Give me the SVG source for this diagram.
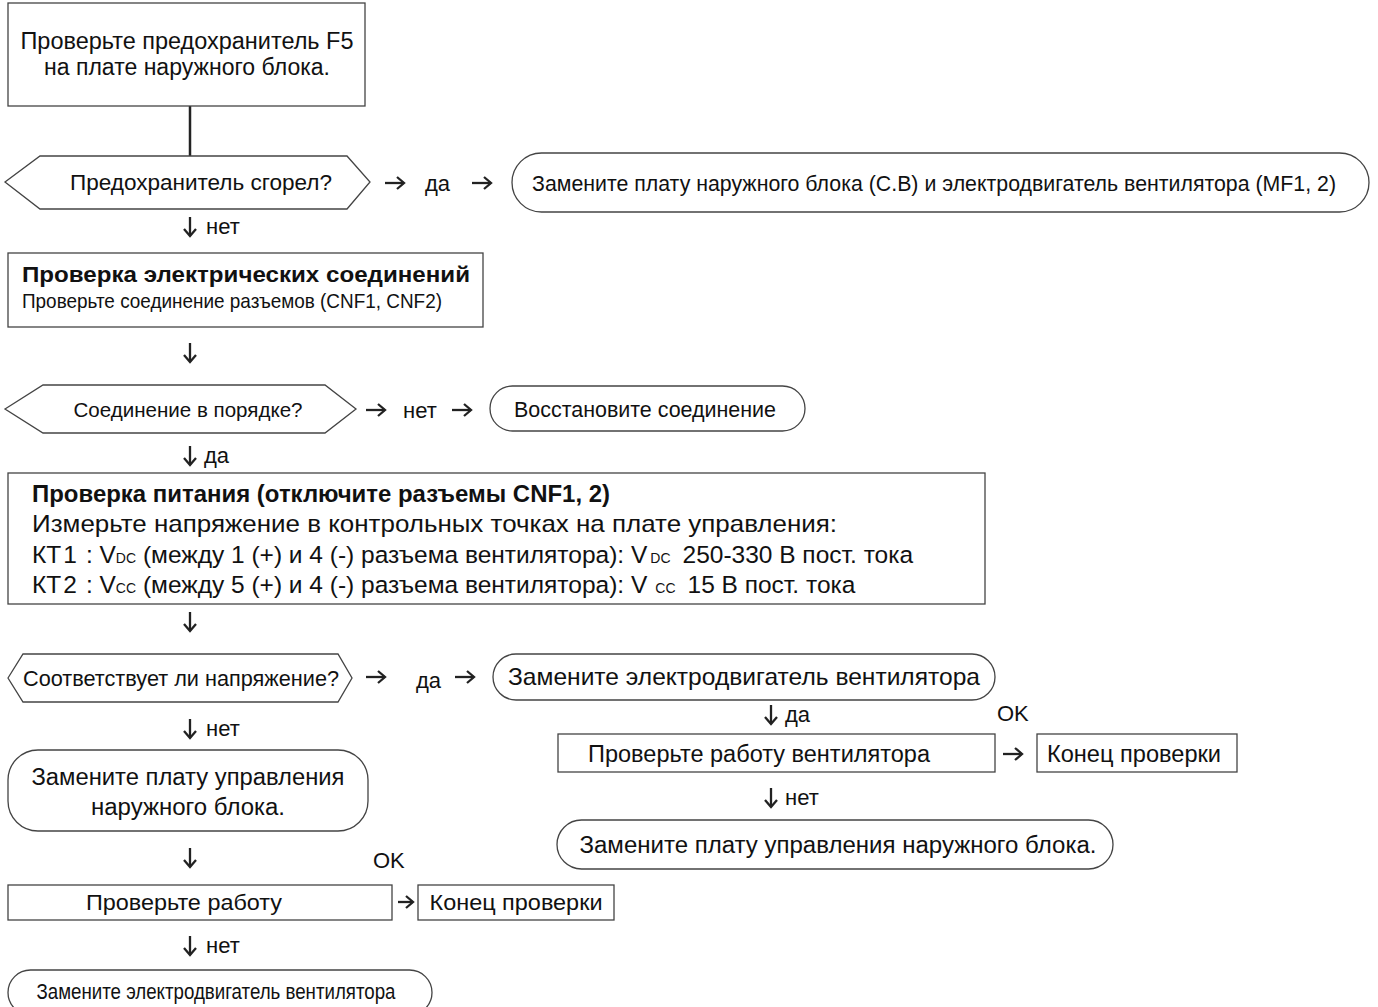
<svg xmlns="http://www.w3.org/2000/svg" width="1378" height="1007" viewBox="0 0 1378 1007">
<defs>
<style>
.box{fill:#fff;stroke:#444;stroke-width:1.3}
.t{font-family:"Liberation Sans",Arial,sans-serif;font-size:22px;fill:#111}
.b{font-weight:bold}
.m{text-anchor:middle}
.c{stroke:#222;stroke-width:2.3;fill:none}
.ln{stroke:#222;stroke-width:2.5;fill:none}
.sub{font-size:14px}
</style>
<marker id="ah" viewBox="0 0 14 14" refX="12" refY="7" markerWidth="14" markerHeight="14" markerUnits="userSpaceOnUse" orient="auto">
<path d="M5,1 L12,7 L5,13" fill="none" stroke="#222" stroke-width="2.3"/>
</marker>
</defs>
<rect width="1378" height="1007" fill="#fff"/>

<g id="connectors">
<line class="ln" x1="190" y1="106" x2="190" y2="156"/>
<line class="c" x1="385" y1="183" x2="404" y2="183" marker-end="url(#ah)"/>
<line class="c" x1="472" y1="183" x2="491" y2="183" marker-end="url(#ah)"/>
<line class="c" x1="190" y1="217" x2="190" y2="236" marker-end="url(#ah)"/>
<line class="c" x1="190" y1="343" x2="190" y2="362" marker-end="url(#ah)"/>
<line class="c" x1="366" y1="410" x2="385" y2="410" marker-end="url(#ah)"/>
<line class="c" x1="452" y1="410" x2="471" y2="410" marker-end="url(#ah)"/>
<line class="c" x1="190" y1="446" x2="190" y2="465" marker-end="url(#ah)"/>
<line class="c" x1="190" y1="612" x2="190" y2="631" marker-end="url(#ah)"/>
<line class="c" x1="366" y1="677" x2="385" y2="677" marker-end="url(#ah)"/>
<line class="c" x1="455" y1="677" x2="474" y2="677" marker-end="url(#ah)"/>
<line class="c" x1="190" y1="719" x2="190" y2="738" marker-end="url(#ah)"/>
<line class="c" x1="190" y1="848" x2="190" y2="867" marker-end="url(#ah)"/>
<line class="c" x1="398" y1="902" x2="413" y2="902" marker-end="url(#ah)"/>
<line class="c" x1="190" y1="936" x2="190" y2="955" marker-end="url(#ah)"/>
<line class="c" x1="771" y1="705" x2="771" y2="724" marker-end="url(#ah)"/>
<line class="c" x1="1003" y1="754" x2="1022" y2="754" marker-end="url(#ah)"/>
<line class="c" x1="771" y1="788" x2="771" y2="807" marker-end="url(#ah)"/>
</g>

<g id="labels">
<text class="t" x="425" y="191">да</text>
<text class="t" x="206" y="234">нет</text>
<text class="t" x="403" y="418">нет</text>
<text class="t" x="204" y="463">да</text>
<text class="t" x="416" y="688">да</text>
<text class="t" x="206" y="736">нет</text>
<text class="t" x="785" y="722">да</text>
<text class="t" x="997" y="721">OK</text>
<text class="t" x="785" y="805">нет</text>
<text class="t" x="373" y="868">OK</text>
<text class="t" x="206" y="953">нет</text>
</g>

<g id="n1">
<rect class="box" x="8" y="3" width="357" height="103"/>
<text class="t m" x="187" y="49" style="font-size:23px" textLength="333" lengthAdjust="spacingAndGlyphs">Проверьте предохранитель F5</text>
<text class="t m" x="187" y="75" style="font-size:23px" textLength="286" lengthAdjust="spacingAndGlyphs">на плате наружного блока.</text>
</g>

<g id="d1">
<polygon class="box" points="5,182 40,156 347,156 370,182 347,209 40,209"/>
<text class="t m" x="201" y="190" textLength="262" lengthAdjust="spacingAndGlyphs">Предохранитель сгорел?</text>
</g>

<g id="r1">
<rect class="box" x="512" y="153" width="857" height="59" rx="29.5"/>
<text class="t m" x="934" y="191" textLength="804" lengthAdjust="spacingAndGlyphs">Замените плату наружного блока (С.В) и электродвигатель вентилятора (MF1, 2)</text>
</g>

<g id="n2">
<rect class="box" x="8" y="253" width="475" height="74"/>
<text class="t b" x="22" y="282" textLength="448" lengthAdjust="spacingAndGlyphs">Проверка электрических соединений</text>
<text class="t" x="22" y="308" style="font-size:21px" textLength="420" lengthAdjust="spacingAndGlyphs">Проверьте соединение разъемов (CNF1, CNF2)</text>
</g>

<g id="d2">
<polygon class="box" points="5,409 43,385 325,385 356,409 325,433 43,433"/>
<text class="t m" x="188" y="417" style="font-size:21px" textLength="229" lengthAdjust="spacingAndGlyphs">Соединение в порядке?</text>
</g>

<g id="r2">
<rect class="box" x="490" y="386" width="315" height="45" rx="22.5"/>
<text class="t m" x="645" y="417" textLength="262" lengthAdjust="spacingAndGlyphs">Восстановите соединение</text>
</g>

<g id="n3">
<rect class="box" x="8" y="473" width="977" height="131"/>
<text class="t b" x="32" y="502" style="font-size:23px" textLength="578" lengthAdjust="spacingAndGlyphs">Проверка питания (отключите разъемы CNF1, 2)</text>
<text class="t" x="32" y="532" style="font-size:24px" textLength="805" lengthAdjust="spacingAndGlyphs">Измерьте напряжение в контрольных точках на плате управления:</text>
<text class="t" x="32" y="563" style="font-size:24.5px">КТ<tspan dx="2">1</tspan><tspan dx="9">: V</tspan><tspan class="sub">DC</tspan> (между 1 (+) и 4 (-) разъема вентилятора): V<tspan class="sub" dx="3">DC</tspan><tspan dx="12">250-330 В пост. тока</tspan></text>
<text class="t" x="32" y="593" style="font-size:24.5px">КТ<tspan dx="2">2</tspan><tspan dx="9">: V</tspan><tspan class="sub">CC</tspan> (между 5 (+) и 4 (-) разъема вентилятора): V<tspan class="sub" dx="8">CC</tspan><tspan dx="12">15 В пост. тока</tspan></text>
</g>

<g id="d3">
<polygon class="box" points="8,678 23,654 338,654 352,678 338,702 23,702"/>
<text class="t m" x="181" y="686" textLength="316" lengthAdjust="spacingAndGlyphs">Соответствует ли напряжение?</text>
</g>

<g id="r3">
<rect class="box" x="493" y="654" width="502" height="46" rx="23"/>
<text class="t m" x="744" y="685" style="font-size:24px" textLength="472" lengthAdjust="spacingAndGlyphs">Замените электродвигатель вентилятора</text>
</g>

<g id="r4">
<rect class="box" x="8" y="750" width="360" height="81" rx="30"/>
<text class="t m" x="188" y="785" style="font-size:23px" textLength="313" lengthAdjust="spacingAndGlyphs">Замените плату управления</text>
<text class="t m" x="188" y="815" style="font-size:23px" textLength="194" lengthAdjust="spacingAndGlyphs">наружного блока.</text>
</g>

<g id="n4">
<rect class="box" x="558" y="734" width="437" height="38"/>
<text class="t m" x="759" y="762" style="font-size:23px" textLength="342" lengthAdjust="spacingAndGlyphs">Проверьте работу вентилятора</text>
</g>

<g id="n5">
<rect class="box" x="1037" y="734" width="200" height="38"/>
<text class="t m" x="1134" y="762" style="font-size:23px" textLength="174" lengthAdjust="spacingAndGlyphs">Конец проверки</text>
</g>

<g id="r5">
<rect class="box" x="557" y="820" width="556" height="49" rx="24.5"/>
<text class="t m" x="838" y="853" style="font-size:23px" textLength="517" lengthAdjust="spacingAndGlyphs">Замените плату управления наружного блока.</text>
</g>

<g id="n6">
<rect class="box" x="8" y="885" width="384" height="35"/>
<text class="t m" x="184" y="910" textLength="196" lengthAdjust="spacingAndGlyphs">Проверьте работу</text>
</g>

<g id="n7">
<rect class="box" x="418" y="885" width="196" height="35"/>
<text class="t m" x="516" y="910" textLength="173" lengthAdjust="spacingAndGlyphs">Конец проверки</text>
</g>

<g id="r6">
<rect class="box" x="8" y="970" width="424" height="45" rx="22.5"/>
<text class="t m" x="216" y="999" textLength="359" lengthAdjust="spacingAndGlyphs">Замените электродвигатель вентилятора</text>
</g>
</svg>
